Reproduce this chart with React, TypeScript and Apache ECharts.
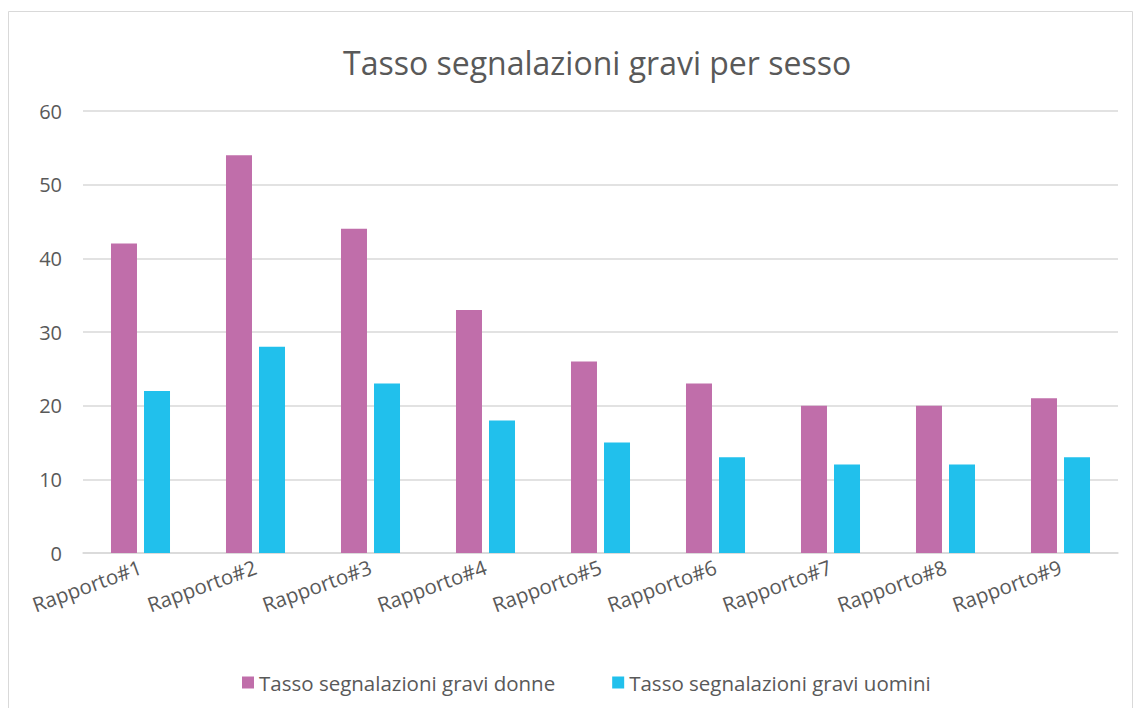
import React, { useEffect, useRef } from "react";
import * as echarts from "echarts";

const categories = ["Rapporto#1", "Rapporto#2", "Rapporto#3", "Rapporto#4", "Rapporto#5", "Rapporto#6", "Rapporto#7", "Rapporto#8", "Rapporto#9"];
const donne = [42, 54, 44, 33, 26, 23, 20, 20, 21];
const uomini = [22, 28, 23, 18, 15, 13, 12, 12, 13];
const seriesNames = ["Tasso segnalazioni gravi donne", "Tasso segnalazioni gravi uomini"];
const titleText = "Tasso segnalazioni gravi per sesso";

const FONT = "'Open Sans', 'Noto Sans', sans-serif";
const TXT = "#595959";

export default function App() {
  const ref = useRef<HTMLDivElement>(null);
  useEffect(() => {
    if (!ref.current) return;
    const chart = echarts.init(ref.current, null, { renderer: "svg" });
    chart.setOption({
      animation: false,
      backgroundColor: "#ffffff",
      textStyle: { fontFamily: FONT },
      title: {
        text: titleText,
        left: 338,
        top: 41,
        textStyle: { fontFamily: FONT, fontSize: 32, fontWeight: "normal", color: TXT },
      },
      graphic: [
        {
          type: "rect",
          shape: { x: 8.5, y: 11.5, width: 1124, height: 710 },
          style: { fill: "none", stroke: "#d9d9d9", lineWidth: 1 },
          silent: true,
        },
      ],
      legend: {
        left: 237,
        top: 667,
        icon: "rect",
        itemWidth: 12,
        itemHeight: 12,
        itemGap: 57,
        textStyle: { fontFamily: FONT, fontSize: 20.5, color: TXT },
        data: seriesNames,
      },
      grid: { left: 83, right: 17, top: 111, bottom: 155, containLabel: false },
      xAxis: {
        type: "category",
        data: categories,
        axisLine: { lineStyle: { color: "#d9d9d9", width: 1.5 } },
        axisTick: { show: false },
        axisLabel: { rotate: 20, interval: 0, margin: 13, fontFamily: FONT, fontSize: 20.5, color: TXT },
      },
      yAxis: {
        type: "value",
        min: 0,
        max: 60,
        interval: 10,
        axisLine: { show: false },
        axisTick: { show: false },
        splitLine: { lineStyle: { color: "#d9d9d9", width: 1.5 } },
        axisLabel: { margin: 21, fontFamily: FONT, fontSize: 20, color: TXT },
      },
      series: [
        {
          name: seriesNames[0],
          type: "bar",
          data: donne,
          barWidth: 26,
          barGap: "27%",
          itemStyle: { color: "#C06EAA" },
        },
        {
          name: seriesNames[1],
          type: "bar",
          data: uomini,
          barWidth: 26,
          itemStyle: { color: "#21C0EC" },
        },
      ],
    });
    return () => chart.dispose();
  }, []);
  return (
    <div
      ref={ref}
      style={{ position: "fixed", left: 0, top: 0, width: 1135, height: 708, background: "#fff" }}
    />
  );
}
